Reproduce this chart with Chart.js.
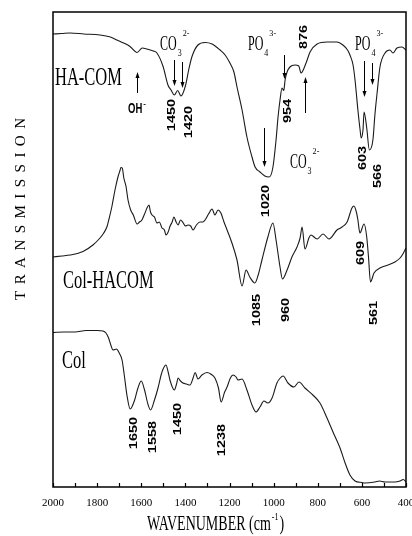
<!DOCTYPE html>
<html>
<head>
<meta charset="utf-8">
<style>
  html, body { margin: 0; padding: 0; background: #fff; }
  #wrap { width: 412px; height: 536px; }
</style>
<script src="https://cdn.jsdelivr.net/npm/chart.js@4.4.1/dist/chart.umd.min.js"></script>
</head>
<body>
<div id="wrap"><canvas id="ftir" width="412" height="536"></canvas></div>
<script>
// FTIR spectra: wavenumber (cm-1) and transmission (arbitrary units, traces stacked)
const haComWn = [2000,1960,1923,1860,1787,1740,1710,1680,1651,1619,1595,1574,1545,1529,1501,1479,1465,1450,1435,1420,1400,1385,1370,1343,1311,1279,1243,1220,1198,1180,1166,1143,1121,1098,1084,1062,1040,1020,1003,989,980,971,962,954,948,939,926,903,886,876,853,835,803,758,713,686,665,654,640,631,618,608,603,595,590,578,566,550,541,531,518,495,473,459,441,418,400];
const haComT  = [90.6,90.7,90.8,90.6,90.4,90.0,89.4,88.8,88.1,86.9,87.8,87.6,87.2,86.8,84.1,80.4,79.4,78.4,79.3,78.2,80.2,83.4,86.1,88.4,88.9,88.6,87.4,86.4,84.8,83.0,80.0,75.4,70.0,66.0,64.0,63.0,62.2,62.0,64.0,69.4,74.0,77.4,79.8,79.3,81.4,83.0,84.0,84.4,84.2,82.8,84.8,87.0,88.6,89.0,89.0,88.4,87.4,86.4,84.4,81.4,75.4,71.4,69.8,71.4,75.0,71.8,67.4,69.4,74.4,78.8,84.0,86.8,87.4,86.8,87.8,88.0,87.4];

const colHaComWn = [2000,1960,1923,1864,1819,1787,1770,1755,1745,1733,1719,1705,1697,1692,1686,1679,1669,1660,1648,1636,1619,1608,1597,1585,1574,1565,1558,1551,1540,1529,1518,1506,1495,1488,1478,1470,1460,1452,1442,1433,1422,1411,1400,1388,1376,1365,1350,1334,1320,1311,1295,1279,1266,1252,1239,1225,1211,1189,1166,1143,1125,1108,1085,1070,1053,1026,1003,989,971,960,939,917,894,880,871,858,840,831,803,776,749,713,690,667,645,636,625,618,609,590,578,570,561,545,518,482,450,427,414,400];
const colHaComT  = [46.0,46.2,46.4,47.1,48.4,49.8,50.8,52.1,53.8,56.1,59.4,62.1,63.2,63.9,63.8,61.8,60.1,57.4,55.4,54.4,52.6,53.0,53.4,54.6,55.8,56.4,55.0,54.4,54.0,52.8,53.0,51.8,51.4,50.4,51.0,52.1,53.0,54.0,53.0,52.4,53.4,52.9,52.2,52.4,52.2,51.4,52.4,53.0,53.0,53.4,54.6,55.6,54.4,55.4,54.8,53.0,51.4,48.8,45.4,40.2,43.4,42.0,40.8,42.4,45.4,50.0,52.8,49.4,44.0,41.6,43.4,46.0,48.0,49.8,52.0,47.6,49.8,50.4,49.6,50.6,49.6,51.4,52.0,53.0,55.8,56.2,55.0,53.4,50.8,52.6,50.0,46.0,41.0,42.8,43.8,44.4,45.0,45.8,46.6,47.8];

const colWn = [2000,1950,1900,1850,1800,1773,1760,1748,1738,1728,1712,1700,1687,1677,1665,1650,1630,1615,1600,1585,1570,1558,1540,1524,1510,1501,1488,1478,1470,1450,1440,1433,1422,1411,1395,1379,1365,1356,1343,1325,1302,1285,1266,1250,1238,1222,1211,1196,1184,1170,1161,1143,1121,1098,1080,1062,1044,1026,1007,985,970,957,935,908,885,858,822,790,758,731,699,676,654,631,600,586,541,520,495,470,450,427,412,400];
const colT  = [30.9,31.0,31.0,31.3,31.3,31.2,30.8,29.8,28.4,27.4,27.6,26.8,25.4,22.4,18.4,15.6,17.4,19.8,21.2,19.4,16.6,15.4,17.4,19.8,22.4,23.6,24.4,23.0,21.4,19.4,20.6,21.8,21.2,20.8,20.6,20.4,21.8,22.9,21.6,22.4,22.9,22.6,21.8,19.8,17.0,19.0,20.0,21.8,22.4,22.0,21.4,21.6,19.4,16.4,15.0,16.0,17.2,16.8,17.8,20.8,21.8,22.2,20.8,20.0,21.0,19.8,18.4,16.8,13.8,11.0,7.8,4.8,2.4,1.2,0.9,0.8,1.0,1.2,1.0,1.0,1.0,1.2,1.5,1.0];

const xTickStep = 200;   // labelled ticks: 2000, 1800, ... 400
const xMinorStep = 100;  // tick marks every 100 cm-1

const toPoints = (wn, t) => wn.map((w, i) => ({ x: w, y: t[i] }));

const SERIF = '"Liberation Serif", "Times New Roman", serif';
const SANS = '"Liberation Sans", Arial, sans-serif';

function squeezedText(ctx, s, x, y, size, sx, weight, family) {
  ctx.save();
  ctx.translate(x, y);
  ctx.scale(sx, 1);
  ctx.font = (weight || 'normal') + ' ' + size + 'px ' + (family || SERIF);
  ctx.textAlign = 'left';
  ctx.textBaseline = 'alphabetic';
  ctx.fillText(s, 0, 0);
  const w = ctx.measureText(s).width * sx;
  ctx.restore();
  return w;
}

function verticalNumber(ctx, s, cx, cy) {
  ctx.save();
  ctx.translate(cx, cy);
  ctx.rotate(-Math.PI / 2);
  ctx.scale(1.45, 1);
  ctx.font = 'bold 10px ' + SANS;
  ctx.textAlign = 'center';
  ctx.textBaseline = 'middle';
  ctx.fillText(s, 0, 1);
  ctx.restore();
}

function arrow(ctx, x, yTail, yHead) {
  const d = Math.sign(yHead - yTail);
  ctx.beginPath();
  ctx.moveTo(x, yTail);
  ctx.lineTo(x, yHead - d * 4);
  ctx.stroke();
  ctx.beginPath();
  ctx.moveTo(x, yHead);
  ctx.lineTo(x - 2, yHead - d * 6);
  ctx.lineTo(x + 2, yHead - d * 6);
  ctx.closePath();
  ctx.fill();
}

// band labels, arrows and species names, anchored in data units
const decor = {
  id: 'ftirDecor',
  afterDraw(chart) {
    const { ctx, chartArea: a, scales: { x, y } } = chart;
    const X = v => x.getPixelForValue(v);
    const Y = v => y.getPixelForValue(v);
    ctx.save();
    ctx.strokeStyle = '#000';
    ctx.fillStyle = '#000';

    // frame
    ctx.lineWidth = 1.5;
    ctx.strokeRect(a.left, a.top, a.right - a.left, a.bottom - a.top);

    // inward tick marks along the wavenumber axis
    ctx.lineWidth = 1.2;
    for (let w = x.min; w <= x.max; w += xMinorStep) {
      const px = Math.round(X(w)) + 0.5;
      ctx.beginPath();
      ctx.moveTo(px, a.bottom);
      ctx.lineTo(px, a.bottom - 4);
      ctx.stroke();
    }

    // sample names
    [['HA-COM', 1991, 80.4], ['Col-HACOM', 1955, 39.8], ['Col', 1959, 23.8]].forEach(([s, w, v]) => {
      squeezedText(ctx, s, X(w), Y(v), 25, 0.66);
    });

    // ionic species with sub/superscripts
    [['CO', '3', '2-', 1515, 87.4], ['PO', '4', '3-', 1116, 87.4],
     ['PO', '4', '3-', 631, 87.4], ['CO', '3', '2-', 926, 63.8]].forEach(([m, sub, sup, w, v]) => {
      const px = X(w), py = Y(v);
      const mw = squeezedText(ctx, m, px, py, 20, 0.6);
      squeezedText(ctx, sub, px + mw + 1, py + 6, 10, 0.8);
      squeezedText(ctx, sup, px + mw + 6, py - 14, 9, 0.9);
    });

    // hydroxyl label
    {
      const px = X(1660), py = Y(74.8);
      const w = squeezedText(ctx, 'OH', px, py, 14, 0.68, 'bold', SANS);
      squeezedText(ctx, '-', px + w + 1, py - 7, 8, 1, 'bold', SANS);
    }

    // arrows: wavenumber, tail value, head value
    ctx.lineWidth = 1;
    [[1619, 78.8, 83.0], [1452, 85.4, 80.2], [1415, 85.0, 79.8], [953, 86.4, 81.6],
     [856, 74.8, 82.0], [1044, 71.8, 64.0], [590, 85.2, 78.0], [556, 84.8, 80.4]].forEach(([w, t, h]) => {
      arrow(ctx, Math.round(X(w)) + 0.5, Y(t), Y(h));
    });

    // band positions
    [['1450', 1463, 74.4], ['1420', 1388, 73.0], ['1020', 1039, 57.2], ['954', 939, 75.2],
     ['876', 865, 90.0], ['603', 599, 65.8], ['566', 531, 62.2],
     ['1085', 1080, 35.4], ['960', 948, 35.4], ['609', 608, 46.8], ['561', 548, 34.8],
     ['1650', 1637, 10.8], ['1558', 1551, 10.0], ['1450', 1438, 13.6], ['1238', 1239, 9.4]].forEach(([s, w, v]) => {
      verticalNumber(ctx, s, X(w), Y(v));
    });

    // axis titles
    {
      const left = 147, base = 530;
      const w = squeezedText(ctx, 'WAVENUMBER (cm', left, base, 20, 0.7);
      const w2 = squeezedText(ctx, '-1', left + w + 1, base - 10, 10, 0.8);
      squeezedText(ctx, ')', left + w + w2 + 2, base, 20, 0.7);
    }
    {
      const title = 'TRANSMISSION';
      ctx.save();
      ctx.translate(20, 300);
      ctx.rotate(-Math.PI / 2);
      ctx.font = '15px ' + SERIF;
      ctx.textBaseline = 'middle';
      ctx.textAlign = 'left';
      const widths = [...title].map(c => ctx.measureText(c).width);
      const total = widths.reduce((p, q) => p + q, 0);
      const gap = (182 - total) / (title.length - 1);
      let pos = 0;
      [...title].forEach((c, i) => { ctx.fillText(c, pos, 1); pos += widths[i] + gap; });
      ctx.restore();
    }
    ctx.restore();
  }
};

const lineStyle = {
  borderColor: '#1a1a1a',
  borderWidth: 1.1,
  pointRadius: 0,
  fill: false,
  cubicInterpolationMode: 'monotone'
};

new Chart(document.getElementById('ftir'), {
  type: 'line',
  data: {
    datasets: [
      { label: 'HA-COM', data: toPoints(haComWn, haComT), ...lineStyle },
      { label: 'Col-HACOM', data: toPoints(colHaComWn, colHaComT), ...lineStyle },
      { label: 'Col', data: toPoints(colWn, colT), ...lineStyle }
    ]
  },
  options: {
    responsive: false,
    animation: false,
    events: [],
    layout: { padding: { left: 53, right: 6, top: 12, bottom: 0 } },
    plugins: { legend: { display: false }, tooltip: { enabled: false } },
    scales: {
      x: {
        type: 'linear',
        reverse: true,
        min: 400,
        max: 2000,
        grid: { display: false, drawTicks: false },
        border: { display: false },
        ticks: {
          stepSize: xTickStep,
          padding: 10,
          color: '#000',
          font: { family: SERIF, size: 11 },
          maxRotation: 0,
          autoSkip: false,
          callback: v => String(v)
        },
        afterFit(scale) {
          scale.height = 49;
          scale.paddingLeft = 0;
          scale.paddingRight = 0;
        }
      },
      y: { display: false, min: 0, max: 95 }
    }
  },
  plugins: [decor]
});
</script>
</body>
</html>
